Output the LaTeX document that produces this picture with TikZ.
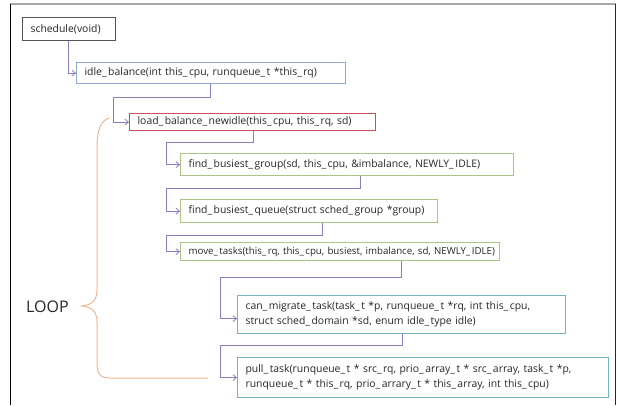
\documentclass[tikz,border=0pt]{standalone}
\usepackage{fontspec}
\setmainfont[WordSpace=2]{Open Sans}
\usetikzlibrary{calc,arrows.meta}
\definecolor{cgray}{HTML}{555555}
\definecolor{cblue}{HTML}{8FA8D8}
\definecolor{cred}{HTML}{C8505A}
\definecolor{cgreen}{HTML}{ABC487}
\definecolor{cteal}{HTML}{72B4BF}
\definecolor{cpurple}{HTML}{8C7CC0}
\definecolor{corange}{HTML}{F2B68E}
\newcommand{\usc}{\_\kern1.5bp}
\tikzset{
  fbox/.style={draw, line width=1.2bp, anchor=north west, inner xsep=8bp, inner ysep=0bp,
    align=left, font=\fontsize{10.4bp}{15bp}\selectfont, text=black!85},
  conn/.style={draw=cpurple, line width=0.8bp, -{Straight Barb[length=3.5bp,width=6bp]}},
  brace/.style={draw=corange, line width=1bp},
}
\begin{document}
\begin{tikzpicture}[x=1bp,y=-1bp]
\useasboundingbox (0,0) rectangle (617,405);
% frame
\draw[gray!70, line width=1.2bp] (10,4) -- (616,4);
\draw[black, line width=1.2bp] (10.5,4) -- (10.5,405);
\draw[black!85, line width=1.5bp] (615.5,4) -- (615.5,405);
% boxes
\node[fbox, draw=cgray, text width=77bp, minimum height=23bp] (sched) at (22,17) {\mbox{schedule(void)}};
\node[fbox, draw=cblue, text width=253bp, minimum height=21bp] (idle) at (76,62) {\mbox{idle\usc balance(int this\usc cpu, runqueue\usc t *this\usc rq)}};
\node[fbox, draw=cred, text width=230bp, minimum height=17bp] (load) at (129,113) {\mbox{load\usc balance\usc newidle(this\usc cpu, this\usc rq, sd)}};
\node[fbox, draw=cgreen, text width=317bp, minimum height=22bp] (group) at (180,153) {\mbox{find\usc busiest\usc group(sd, this\usc cpu, \&imbalance, NEWLY\usc IDLE)}};
\node[fbox, draw=cgreen, text width=241bp, minimum height=23bp] (queue) at (180,199) {\mbox{find\usc busiest\usc queue(struct sched\usc group *group)}};
\node[fbox, draw=cgreen, text width=303bp, minimum height=18bp, font=\fontsize{9.7bp}{15bp}\selectfont] (move) at (180,242) {\mbox{move\usc tasks(this\usc rq, this\usc cpu, busiest, imbalance, sd, NEWLY\usc IDLE)}};
\node[fbox, draw=cteal, text width=312bp, minimum height=38bp] (can) at (237,295) {\mbox{can\usc migrate\usc task(task\usc t *p, runqueue\usc t *rq, int this\usc cpu,}\\\mbox{struct sched\usc domain *sd, enum idle\usc type idle)}};
\node[fbox, draw=cteal, text width=355bp, minimum height=40bp] (pull) at (237,357) {\mbox{pull\usc task(runqueue\usc t * src\usc rq, prio\usc array\usc t * src\usc array, task\usc t *p,}\\\mbox{runqueue\usc t * this\usc rq, prio\usc arrary\usc t * this\usc array, int this\usc cpu)}};
% junction points
\coordinate (j1) at (113,97);
\coordinate (j2) at (166,142);
\coordinate (j3) at (166,188);
\coordinate (j4) at (166,235);
\coordinate (j5) at (220,277);
\coordinate (j6) at (220,345);
% connectors
\draw[conn] ($(sched.south west)+(46,0)$) |- (idle.west);
\draw[conn] ($(idle.south west)+(134,0)$) |- (j1) |- (load.west);
\draw[conn] ($(load.south west)+(124,0)$) |- (j2) |- (group.west);
\draw[conn] ($(group.south west)+(180,0)$) |- (j3) |- (queue.west);
\draw[conn] ($(queue.south west)+(142,0)$) |- (j4) |- (move.west);
\draw[conn] ($(move.south west)+(221,0)$) |- (j5) |- ($(can.west)+(0,4)$);
\draw[conn] ($(can.south west)+(165,0)$) |- (j6) |- ($(pull.west)+(0,0)$);
% loop brace
\draw[brace] (109,118) .. controls (100,121) and (97,130) .. (97,150)
  -- (97,290) .. controls (97,300) and (92,305) .. (82,306)
  .. controls (92,307) and (97,312) .. (97,322)
  -- (97,362) .. controls (97,374) and (100,378) .. (110,378) -- (208,378);
\node[font=\fontsize{16bp}{18bp}\selectfont, text=black!85, anchor=west, inner sep=0] (loop) at (26,307) {LOOP};
\end{tikzpicture}
\end{document}
